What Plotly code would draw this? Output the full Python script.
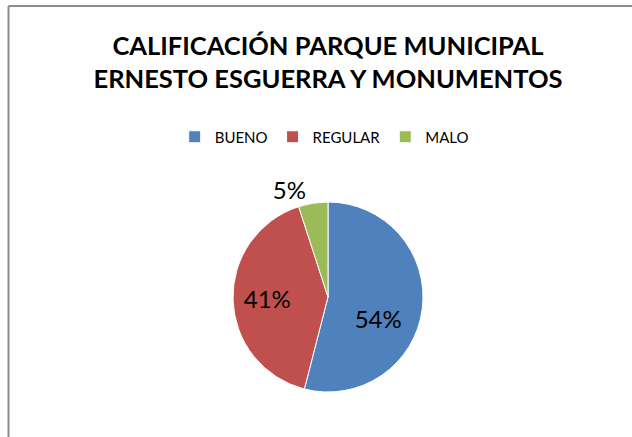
import plotly.graph_objects as go

categories = ["BUENO", "REGULAR", "MALO"]
values = [54, 41, 5]
colors = ["#4F81BD", "#C0504D", "#9BBB59"]
title_lines = ["CALIFICACIÓN PARQUE MUNICIPAL", "ERNESTO ESGUERRA Y MONUMENTOS"]

W, H = 632, 437
cx, cy, r = 328, 297, 95

NB = "\u00a0"
label_templates = [
    NB + "<br>" + NB + "%{percent:.0%}",
    "%{percent:.0%}" + NB * 4,
    "%{percent:.0%}",
]

fig = go.Figure()
fig.add_trace(go.Pie(
    labels=categories,
    values=values,
    marker=dict(colors=colors, line=dict(color="white", width=1)),
    sort=False,
    direction="clockwise",
    rotation=0,
    texttemplate=label_templates,
    textposition=["inside", "inside", "outside"],
    insidetextorientation="horizontal",
    textfont=dict(family="Lato", size=24, color="black"),
    domain=dict(x=[(cx - r) / W, (cx + r) / W], y=[(H - cy - r) / H, (H - cy + r) / H]),
    hoverinfo="label+percent",
    showlegend=True,
))

fig.update_layout(
    width=W, height=H,
    margin=dict(l=0, r=0, t=0, b=0),
    paper_bgcolor="white",
    title=dict(
        text="<br>".join(title_lines),
        x=0.519, xanchor="center",
        y=1 - 55 / H, yanchor="middle",
        font=dict(family="Lato", size=25.5, color="black", weight="bold"),
    ),
    legend=dict(
        orientation="h",
        x=0.513, xanchor="center",
        y=1 - 137 / H, yanchor="middle",
        font=dict(family="Lato", size=15, color="black"),
        itemwidth=30,
        traceorder="normal",
    ),
    shapes=[
        dict(type="line", xref="paper", yref="paper", x0=8.5 / W, x1=1, y0=1 - 6 / H, y1=1 - 6 / H,
             line=dict(color="#8c8c8c", width=2)),
        dict(type="line", xref="paper", yref="paper", x0=8.5 / W, x1=8.5 / W, y0=0, y1=1 - 6 / H,
             line=dict(color="#8c8c8c", width=2)),
    ],
)

fig.write_html(
    "out.html",
    config={"displayModeBar": False},
    post_script="document.body.style.margin='0';document.body.style.overflow='hidden';",
)
